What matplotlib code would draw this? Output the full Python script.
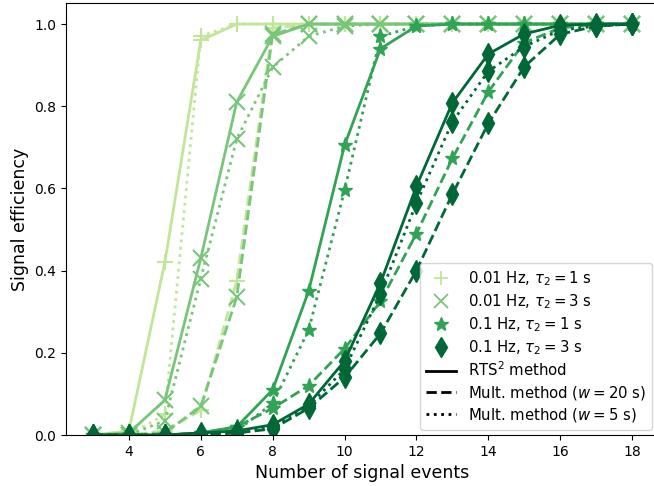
import numpy as np
import matplotlib
matplotlib.use("Agg")
import matplotlib.pyplot as plt
from matplotlib.lines import Line2D

n_events = [3, 4, 5, 6, 7, 8, 9, 10, 11, 12, 13, 14, 15, 16, 17, 18]

# 0.01 Hz, tau2 = 1 s
a_rts = [0.0, 0.01, 0.42, 0.96, 1.0, 1.0, 1.0, 1.0, 1.0, 1.0, 1.0, 1.0, 1.0, 1.0, 1.0, 1.0]
a_w20 = [0.0, 0.0, 0.01, 0.06, 0.375, 0.99, 1.0, 1.0, 1.0, 1.0, 1.0, 1.0, 1.0, 1.0, 1.0, 1.0]
a_w5 = [0.0, 0.0, 0.05, 0.97, 1.0, 1.0, 1.0, 1.0, 1.0, 1.0, 1.0, 1.0, 1.0, 1.0, 1.0, 1.0]
# 0.01 Hz, tau2 = 3 s
b_rts = [0.0, 0.005, 0.085, 0.43, 0.81, 0.97, 1.0, 1.0, 1.0, 1.0, 1.0, 1.0, 1.0, 1.0, 1.0, 1.0]
b_w20 = [0.0, 0.0, 0.005, 0.07, 0.335, 0.975, 1.0, 1.0, 1.0, 1.0, 1.0, 1.0, 1.0, 1.0, 1.0, 1.0]
b_w5 = [0.0, 0.0, 0.035, 0.38, 0.72, 0.895, 0.97, 0.995, 1.0, 1.0, 1.0, 1.0, 1.0, 1.0, 1.0, 1.0]
# 0.1 Hz, tau2 = 1 s
c_rts = [0.0, 0.0, 0.0, 0.005, 0.02, 0.11, 0.35, 0.705, 0.94, 0.995, 1.0, 1.0, 1.0, 1.0, 1.0, 1.0]
c_w20 = [0.0, 0.0, 0.0, 0.005, 0.02, 0.065, 0.12, 0.21, 0.325, 0.49, 0.673, 0.835, 0.955, 0.99, 1.0, 1.0]
c_w5 = [0.0, 0.0, 0.0, 0.0, 0.01, 0.077, 0.255, 0.595, 0.97, 0.995, 1.0, 1.0, 1.0, 1.0, 1.0, 1.0]
# 0.1 Hz, tau2 = 3 s
d_rts = [0.0, 0.0, 0.0, 0.005, 0.01, 0.025, 0.075, 0.18, 0.37, 0.605, 0.808, 0.927, 0.976, 0.997, 1.0, 1.0]
d_w20 = [0.0, 0.0, 0.0, 0.0, 0.005, 0.015, 0.065, 0.14, 0.247, 0.4, 0.586, 0.758, 0.896, 0.975, 0.995, 1.0]
d_w5 = [0.0, 0.0, 0.0, 0.0, 0.005, 0.02, 0.07, 0.16, 0.343, 0.564, 0.762, 0.885, 0.945, 0.985, 0.995, 1.0]

configs = [
    {'label': r'0.01 Hz, $\tau_2 = 1$ s', 'marker': '+', 'color': '#c2e699',
     'data': [a_rts, a_w20, a_w5]},
    {'label': r'0.01 Hz, $\tau_2 = 3$ s', 'marker': 'x', 'color': '#78c679',
     'data': [b_rts, b_w20, b_w5]},
    {'label': r'0.1 Hz, $\tau_2 = 1$ s', 'marker': '*', 'color': '#31a354',
     'data': [c_rts, c_w20, c_w5]},
    {'label': r'0.1 Hz, $\tau_2 = 3$ s', 'marker': 'd', 'color': '#006837',
     'data': [d_rts, d_w20, d_w5]},
]
methods = [
    {'label': r'RTS$^2$ method', 'ls': '-'},
    {'label': r'Mult. method ($w = 20$ s)', 'ls': '--'},
    {'label': r'Mult. method ($w = 5$ s)', 'ls': ':'},
]
ms = 11

fig = plt.figure(figsize=(6.54, 4.86), dpi=100)
ax = fig.add_axes([66 / 654, 51 / 486, 593 / 654, 431.5 / 486])

handles = []
for c in configs:
    for m, y in zip(methods, c['data']):
        ax.plot(n_events, y, ls=m['ls'], color=c['color'], marker=c['marker'],
                ms=ms, lw=2, mew=1.5 if c['marker'] in '+x' else 1)
    handles.append(Line2D([], [], ls='none', marker=c['marker'], color=c['color'],
                          ms=10, mew=1.3 if c['marker'] in '+x' else 1, label=c['label']))
for m in methods:
    handles.append(Line2D([], [], ls=m['ls'], color='k', lw=2, label=m['label']))

ax.legend(handles=handles, loc='lower right', fontsize=10.7, labelspacing=0.28,
          bbox_to_anchor=(1.0, -0.005))

ax.set_xlim(2.25, 18.75)
ax.set_ylim(0, 1.05)
ax.set_xticks([4, 6, 8, 10, 12, 14, 16, 18])
ax.set_xlabel("Number of signal events", fontsize=12.5)
ax.set_ylabel("Signal efficiency", fontsize=12.5)

fig.savefig("out.png", dpi=100)
